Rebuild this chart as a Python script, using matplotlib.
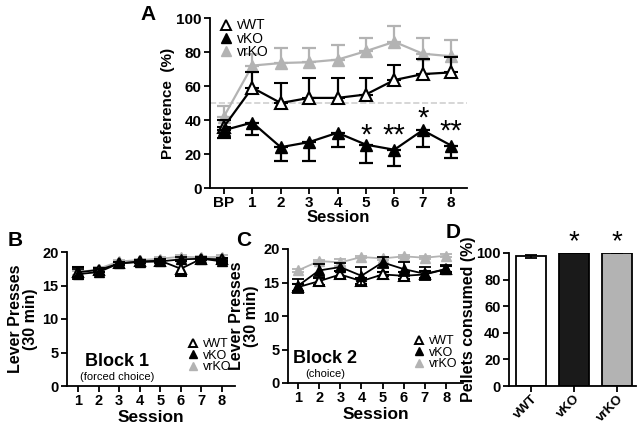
import numpy as np
import matplotlib
matplotlib.use('Agg')
from matplotlib import pyplot as plt
from matplotlib.lines import Line2D

plt.rcParams['font.family'] = ['Liberation Sans', 'DejaVu Sans']
plt.rcParams['font.weight'] = 'bold'
plt.rcParams['axes.labelweight'] = 'bold'

# panel A: preference (%)
sessA = ['BP', '1', '2', '3', '4', '5', '6', '7', '8']
wtA = [36, 59, 50, 53, 53, 55, 63.5, 67, 68]
wtA_err = [4, 9, 11.5, 12, 12, 10, 9, 9, 9]
koA = [34, 38.5, 24, 27, 32.5, 25.5, 22.5, 34, 25]
koA_err = [4.5, 7.5, 8, 11, 8.5, 10.5, 9.5, 10, 7.5]
rkoA = [42, 72, 73.5, 74, 75.5, 80.5, 86, 79, 77.5]
rkoA_err = [6.5, 7, 9, 8.5, 8.5, 7.5, 9.5, 9, 9.5]
starsA = {5: '*', 6: '**', 7: '*', 8: '**'}
starsA_y = {5: 31, 6: 31, 7: 41, 8: 33}

# panel B: block 1 (forced choice)
sessB = [1, 2, 3, 4, 5, 6, 7, 8]
wtB = [17.0, 17.3, 18.3, 18.6, 18.7, 17.5, 19.0, 18.9]
wtB_err = [0.7, 0.3, 0.2, 0.2, 0.2, 1.1, 0.2, 0.2]
koB = [16.7, 17.0, 18.3, 18.5, 18.6, 18.9, 19.0, 18.6]
koB_err = [0.8, 0.4, 0.2, 0.2, 0.2, 0.3, 0.2, 0.3]
rkoB = [16.9, 17.5, 18.6, 18.8, 19.0, 19.3, 19.2, 19.3]
rkoB_err = [0.3, 0.3, 0.2, 0.2, 0.2, 0.2, 0.2, 0.2]

# panel C: block 2 (choice)
wtC = [14.3, 15.2, 16.2, 15.2, 16.2, 16.0, 16.2, 17.0]
wtC_err = [0.5, 0.5, 0.5, 0.4, 0.3, 0.5, 0.5, 0.4]
koC = [14.5, 16.8, 17.3, 16.0, 18.0, 17.0, 16.3, 17.0]
koC_err = [1.0, 1.0, 0.6, 1.3, 0.8, 1.0, 1.0, 0.6]
rkoC = [16.8, 18.2, 18.0, 18.8, 18.6, 18.9, 18.7, 19.0]
rkoC_err = [0.2, 0.2, 0.5, 0.2, 0.2, 0.2, 0.2, 0.2]

# panel D: pellets consumed
groupsD = ['vWT', 'vKO', 'vrKO']
pelletsD = [97.5, 100, 100]
pelletsD_err = [1.0, 0.0, 0.0]

grey = '#b3b3b3'
W, H = 640, 424


def ax_px(l, t, r, b):
    return fig.add_axes([l / W, 1 - b / H, (r - l) / W, (b - t) / H])


def style(ax, fs=10.5):
    for s in ['top', 'right']:
        ax.spines[s].set_visible(False)
    for s in ['left', 'bottom']:
        ax.spines[s].set_linewidth(1.3)
    ax.tick_params(width=1.3, length=4, labelsize=fs, pad=2)
    for lab in ax.get_xticklabels() + ax.get_yticklabels():
        lab.set_fontweight('bold')


def three_groups(ax, x, wt, wte, ko, koe, rko, rkoe, ms, lw, caps, one_sided=False):
    if one_sided:
        z = np.zeros(len(x))
        wte = [z, wte]
        koe = [koe, z]
        rkoe = [z, rkoe]
    ax.errorbar(x, rko, yerr=rkoe, color=grey, marker='^', ms=ms, lw=lw,
                capsize=caps, capthick=lw, mec=grey, zorder=2)
    ax.errorbar(x, wt, yerr=wte, color='black', marker='^', ms=ms, lw=lw,
                capsize=caps, capthick=lw, mfc='white', mec='black', mew=1.5,
                zorder=3)
    ax.errorbar(x, ko, yerr=koe, color='black', marker='^', ms=ms, lw=lw,
                capsize=caps, capthick=lw, zorder=4)


def legend(ax, loc, anchor, fs, ms):
    hs = [Line2D([], [], ls='none', marker='^', ms=ms, mfc='white', mec='black', mew=1.4),
          Line2D([], [], ls='none', marker='^', ms=ms, color='black'),
          Line2D([], [], ls='none', marker='^', ms=ms, color=grey)]
    lg = ax.legend(hs, ['vWT', 'vKO', 'vrKO'], loc=loc, bbox_to_anchor=anchor,
                   frameon=False, fontsize=fs, handlelength=0.8,
                   handletextpad=0.4, labelspacing=-0.05, borderaxespad=0)
    for t in lg.get_texts():
        t.set_fontweight('normal')
    return lg


fig = plt.figure(figsize=(6.4, 4.24), dpi=100)

# ---- A
axA = ax_px(210, 18, 467, 188)
xA = np.arange(len(sessA))
axA.axhline(50, color='#d0d0d0', ls='--', lw=1.2, zorder=1)
three_groups(axA, xA, wtA, wtA_err, koA, koA_err, rkoA, rkoA_err, 9, 1.6, 5,
             one_sided=True)
axA.set_xlim(-0.49, 8.56)
axA.set_ylim(0, 100)
axA.set_xticks(xA)
axA.set_xticklabels(sessA)
axA.set_yticks([0, 20, 40, 60, 80, 100])
axA.set_xlabel('Session', fontsize=12, labelpad=0)
axA.set_ylabel('Preference  (%)', fontsize=11, labelpad=1)
style(axA, 11)
for k in starsA:
    axA.text(k, starsA_y[k], starsA[k], ha='center', va='center', fontsize=21,
             fontweight='normal', zorder=6)
legend(axA, 'upper left', (0.02, 1.03), 10, 7)
fig.text(140 / W, 1 - 14 / H, 'A', fontsize=15, fontweight='bold', va='center')

# ---- B
axB = ax_px(67, 252, 235, 386)
three_groups(axB, sessB, wtB, wtB_err, koB, koB_err, rkoB, rkoB_err, 7.5, 1.3, 4)
axB.set_xlim(0.47, 8.63)
axB.set_ylim(0, 20)
axB.set_xticks(sessB)
axB.set_yticks([0, 5, 10, 15, 20])
axB.set_xlabel('Session', fontsize=12.5, labelpad=1)
axB.set_ylabel('Lever Presses\n(30 min)', fontsize=11.5, labelpad=3,
               linespacing=1.0)
style(axB)
axB.text(2.9, 3.6, 'Block 1', ha='center', va='center', fontsize=13,
         fontweight='bold')
axB.text(2.9, 1.3, '(forced choice)', ha='center', va='center', fontsize=8,
         fontweight='normal')
legend(axB, 'lower left', (0.69, 0.06), 9, 6)
fig.text(8 / W, 1 - 240 / H, 'B', fontsize=15, fontweight='bold', va='center')

# ---- C
axC = ax_px(288, 249, 463, 383)
three_groups(axC, sessB, wtC, wtC_err, koC, koC_err, rkoC, rkoC_err, 7.5, 1.3, 4)
axC.set_xlim(0.53, 8.8)
axC.set_ylim(0, 20)
axC.set_xticks(sessB)
axC.set_yticks([0, 5, 10, 15, 20])
axC.set_xlabel('Session', fontsize=12.5, labelpad=1)
axC.set_ylabel('Lever Presses\n(30 min)', fontsize=11.5, labelpad=3,
               linespacing=1.0)
style(axC)
axC.text(2.3, 3.6, 'Block 2', ha='center', va='center', fontsize=13,
         fontweight='bold')
axC.text(2.3, 1.3, '(choice)', ha='center', va='center', fontsize=8,
         fontweight='normal')
legend(axC, 'lower left', (0.69, 0.06), 9, 6)
fig.text(236 / W, 1 - 240 / H, 'C', fontsize=15, fontweight='bold', va='center')

# ---- D
axD = ax_px(509, 253, 636, 386)
xD = np.arange(len(groupsD))
axD.bar(xD, pelletsD, width=0.7, color=['white', '#1a1a1a', grey],
        edgecolor='black', lw=1.3, yerr=pelletsD_err, capsize=4,
        error_kw=dict(lw=1.3, capthick=1.3))
axD.set_xlim(-0.51, 2.44)
axD.set_ylim(0, 100)
axD.set_xticks(xD)
axD.set_xticklabels(groupsD, rotation=45, ha='right', rotation_mode='anchor')
axD.set_yticks([0, 20, 40, 60, 80, 100])
axD.set_ylabel('Pellets consumed (%)', fontsize=11.5, labelpad=0)
style(axD)
axD.tick_params(axis='x', pad=1, labelsize=9.5)
for i in [1, 2]:
    axD.text(xD[i], 108, '*', ha='center', va='center', fontsize=20,
             fontweight='normal', clip_on=False)
fig.text(446 / W, 1 - 232 / H, 'D', fontsize=15, fontweight='bold', va='center')

fig.savefig('out.png', dpi=100)
